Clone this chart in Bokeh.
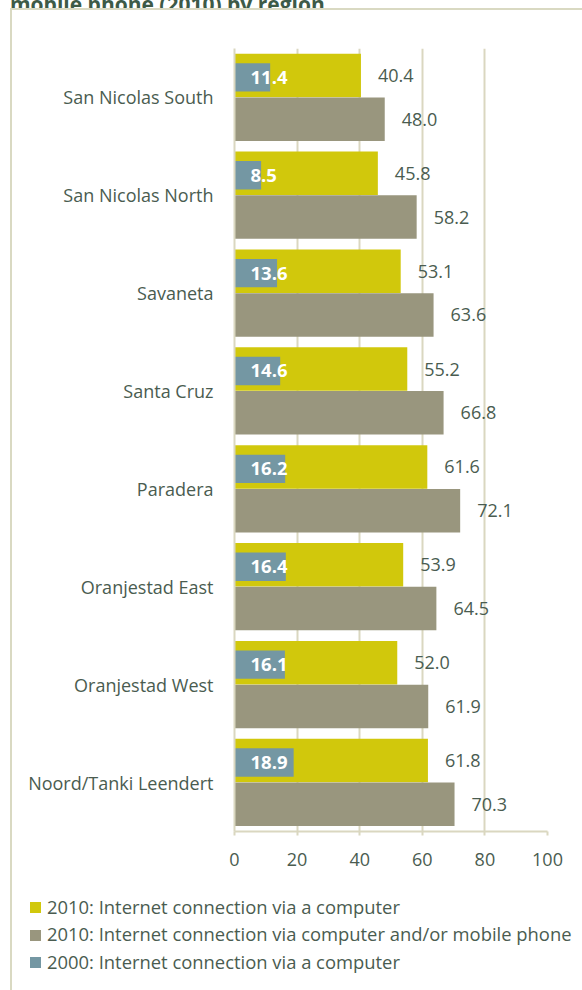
from bokeh.plotting import figure
from bokeh.layouts import column
from bokeh.models import FactorRange, ColumnDataSource, FixedTicker, Div
from bokeh.transform import dodge
from bokeh.core.properties import value
from bokeh.embed import file_html
from bokeh.resources import INLINE

regions = ["San Nicolas South", "San Nicolas North", "Savaneta", "Santa Cruz",
           "Paradera", "Oranjestad East", "Oranjestad West", "Noord/Tanki Leendert"]
comp_2010 = [40.4, 45.8, 53.1, 55.2, 61.6, 53.9, 52.0, 61.8]
mobile_2010 = [48.0, 58.2, 63.6, 66.8, 72.1, 64.5, 61.9, 70.3]
comp_2000 = [11.4, 8.5, 13.6, 14.6, 16.2, 16.4, 16.1, 18.9]
x_ticks = [0, 20, 40, 60, 80, 100]
series_names = ["2010: Internet connection via a computer",
                "2010: Internet connection via computer and/or mobile phone",
                "2000: Internet connection via a computer"]
title_text = "mobile phone (2010) by region"

YELLOW = "#D1C80C"
GRAY = "#99967E"
BLUE = "#7497A3"
TEXT = "#4A5C50"
GRID = "#DAD7C0"
BOX = "#D9D9C2"
FONT = "Open Sans"
FS = "18px"
series_colors = [YELLOW, GRAY, BLUE]

src = ColumnDataSource(dict(
    region=regions, c10=comp_2010, m10=mobile_2010, c00=comp_2000,
    c10s=["%.1f" % v for v in comp_2010],
    m10s=["%.1f" % v for v in mobile_2010],
    c00s=["%.1f" % v for v in comp_2000],
    zero=[0] * len(regions),
))

# ---- title fragment (only its lower edge is visible, as in the reference)
title_div = Div(
    text=('<div style="font-family:\'Open Sans\';font-weight:bold;font-size:21px;'
          'line-height:21px;color:#3D5A47;margin-top:-21px;margin-left:10px;'
          'white-space:nowrap">%s</div>' % title_text),
    width=582, height=8, margin=0, styles={"overflow": "hidden"})

# ---- main chart
p = figure(y_range=FactorRange(*regions[::-1]), x_range=(0, 100),
           width=570, height=870, frame_width=311, frame_height=781,
           min_border_left=222, min_border_right=37, min_border_top=38, min_border_bottom=51,
           output_backend="svg", toolbar_location=None, margin=(0, 0, 0, 10),
           styles={"border-left": "2px solid " + BOX, "border-top": "2px solid " + BOX})
p.outline_line_color = None
p.background_fill_color = "white"
p.border_fill_color = "white"

Y_OFF, G_OFF, B_OFF = 0.225, -0.222, 0.205
p.hbar(y=dodge("region", Y_OFF, range=p.y_range), right="c10", left=0, height=0.445,
       source=src, fill_color=YELLOW, line_color=None)
p.hbar(y=dodge("region", G_OFF, range=p.y_range), right="m10", left=0, height=0.445,
       source=src, fill_color=GRAY, line_color=None)
p.hbar(y=dodge("region", B_OFF, range=p.y_range), right="c00", left=0, height=0.29,
       source=src, fill_color=BLUE, line_color=None)

p.text(x="c10", y=dodge("region", Y_OFF, range=p.y_range), text="c10s", source=src,
       x_offset=17, text_baseline="middle", text_align="left",
       text_font=value(FONT), text_font_size=FS, text_color=TEXT)
p.text(x="m10", y=dodge("region", G_OFF, range=p.y_range), text="m10s", source=src,
       x_offset=17, text_baseline="middle", text_align="left",
       text_font=value(FONT), text_font_size=FS, text_color=TEXT)
p.text(x="zero", y=dodge("region", B_OFF, range=p.y_range), text="c00s", source=src,
       x_offset=16, text_baseline="middle", text_align="left",
       text_font=value(FONT), text_font_size="18.5px", text_font_style="bold", text_color="white")

p.ygrid.grid_line_color = None
p.xgrid.grid_line_color = GRID
p.xgrid.grid_line_width = 2
p.xaxis.ticker = FixedTicker(ticks=x_ticks)
p.xaxis.axis_line_color = GRID
p.xaxis.axis_line_width = 2
p.xaxis.major_tick_line_color = GRID
p.xaxis.major_tick_line_width = 2
p.xaxis.major_tick_in = 0
p.xaxis.major_tick_out = 4
p.xaxis.minor_tick_line_color = None
p.xaxis.major_label_text_font = FONT
p.xaxis.major_label_text_font_size = FS
p.xaxis.major_label_text_color = TEXT
p.xaxis.major_label_standoff = 17

p.yaxis.axis_line_color = GRID
p.yaxis.axis_line_width = 2
p.yaxis.major_tick_line_color = None
p.yaxis.major_tick_in = 0
p.yaxis.major_tick_out = 0
p.yaxis.minor_tick_line_color = None
p.yaxis.major_label_text_font = FONT
p.yaxis.major_label_text_font_size = FS
p.yaxis.major_label_text_color = TEXT
p.yaxis.major_label_standoff = 21

# ---- legend (HTML block under the chart)
rows = []
for i, (name, col) in enumerate(zip(series_names, series_colors)):
    top = 13.5 + i * 27.5
    rows.append(
        '<div style="position:absolute;left:18px;top:%.1fpx;height:26px;line-height:26px;'
        'white-space:nowrap;">'
        '<span style="display:inline-block;width:11px;height:11px;background:%s;'
        'margin-right:6px;vertical-align:middle;position:relative;top:-1px;"></span>%s</div>'
        % (top, col, name))
legend_div = Div(
    text=('<div style="position:relative;width:570px;height:110px;font-family:\'Open Sans\';'
          'font-size:18.4px;color:%s;">%s</div>' % (TEXT, "".join(rows))),
    width=570, height=110, margin=(0, 0, 0, 10),
    styles={"border-left": "2px solid " + BOX, "overflow": "hidden"})

layout = column(title_div, p, legend_div, spacing=0)
open("out.html", "w").write(file_html(layout, INLINE))
